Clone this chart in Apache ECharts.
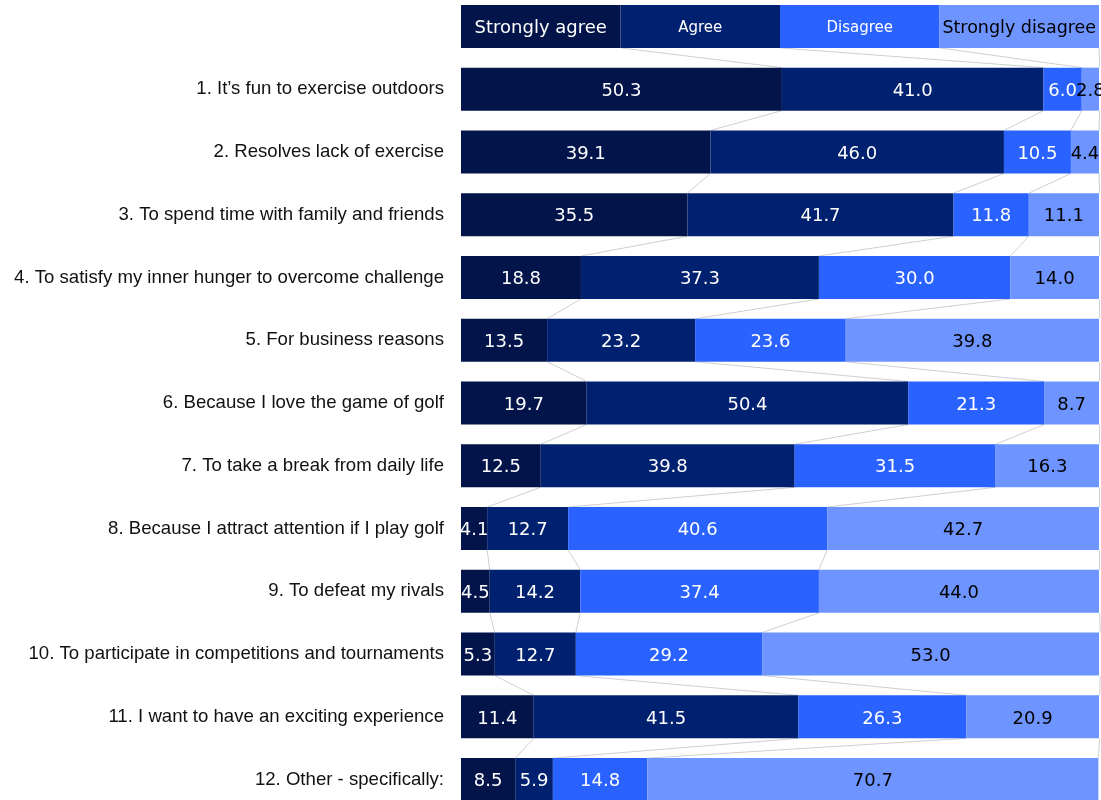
<!DOCTYPE html>
<html>
<head>
<meta charset="utf-8">
<script src="https://cdn.jsdelivr.net/npm/echarts@6/dist/echarts.min.js"></script>
<style>
  html, body { margin: 0; padding: 0; background: #fff; overflow: hidden; width: 1101px; height: 800px; }
  #chart { position: absolute; left: 0; top: -5px; width: 1101px; height: 816px; }
</style>
</head>
<body>
<div id="chart"></div>
<script>
// Survey statements (first row is the key row, drawn as a bar of four equal parts)
const categories = [
  '',
  '1. It\u2019s fun to exercise outdoors',
  '2. Resolves lack of exercise',
  '3. To spend time with family and friends',
  '4. To satisfy my inner hunger to overcome challenge',
  '5. For business reasons',
  '6. Because I love the game of golf',
  '7. To take a break from daily life',
  '8. Because I attract attention if I play golf',
  '9. To defeat my rivals',
  '10. To participate in competitions and tournaments',
  '11. I want to have an exciting experience',
  '12. Other - specifically:'
];

const seriesNames = ['Strongly agree', 'Agree', 'Disagree', 'Strongly disagree'];

// Share of answers (%) per statement; leading 25 is the key row
const stronglyAgree    = [25, 50.3, 39.1, 35.5, 18.8, 13.5, 19.7, 12.5,  4.1,  4.5,  5.3, 11.4,  8.5];
const agree            = [25, 41.0, 46.0, 41.7, 37.3, 23.2, 50.4, 39.8, 12.7, 14.2, 12.7, 41.5,  5.9];
const disagree         = [25,  6.0, 10.5, 11.8, 30.0, 23.6, 21.3, 31.5, 40.6, 37.4, 29.2, 26.3, 14.8];
const stronglyDisagree = [25,  2.8,  4.4, 11.1, 14.0, 39.8,  8.7, 16.3, 42.7, 44.0, 53.0, 20.9, 70.7];

const colors = ['#02144A', '#002070', '#2962FF', '#6D94FF'];
const labelColors = ['#ffffff', '#ffffff', '#ffffff', '#000000'];
const keyFontSizes = [18, 15, 15, 17.5];
const GAP = 0.315;

const valueSets = [stronglyAgree, agree, disagree, stronglyDisagree];

// cumulative right edge of each segment for a row
function cumulative(row) {
  let s = 0;
  return valueSets.map(arr => (s += arr[row]));
}

const chart = echarts.init(document.getElementById('chart'));

const barSeries = valueSets.map((arr, k) => ({
  name: seriesNames[k],
  type: 'bar',
  stack: 'total',
  barCategoryGap: (GAP * 100) + '%',
  itemStyle: { color: colors[k] },
  z: 3,
  label: {
    show: true,
    position: 'inside',
    offset: [0, 2],
    color: labelColors[k],
    fontFamily: 'DejaVu Sans',
    fontSize: 18,
    formatter: p => p.dataIndex === 0 ? p.seriesName : Number(p.value).toFixed(1)
  },
  data: arr.map((v, i) => i === 0 ? { value: v, label: { fontSize: keyFontSizes[k] } } : v)
}));

// thin connectors between segment boundaries of neighbouring bars
const connectorSeries = {
  type: 'custom',
  silent: true,
  z: 1,
  renderItem: function (params, api) {
    const row = api.value(0);
    const band = api.size([0, 1])[1];
    const half = band * (1 - GAP) / 2;
    const a = cumulative(row);
    const b = cumulative(row + 1);
    const children = a.map((xa, k) => {
      const p1 = api.coord([xa, row]);
      const p2 = api.coord([b[k], row + 1]);
      return {
        type: 'line',
        shape: { x1: p1[0], y1: p1[1] + half, x2: p2[0], y2: p2[1] - half },
        style: { stroke: '#cfcfcf', lineWidth: 1 }
      };
    });
    return { type: 'group', children };
  },
  encode: { x: 1, y: 0 },
  data: categories.slice(0, -1).map((_, i) => [i, 0])
};

chart.setOption({
  animation: false,
  grid: { left: 461, right: 2, top: 0, bottom: 0, containLabel: false },
  xAxis: {
    type: 'value',
    min: 0,
    max: 100,
    show: false
  },
  yAxis: {
    type: 'category',
    inverse: true,
    data: categories,
    axisLine: { show: false },
    axisTick: { show: false },
    splitLine: { show: false },
    axisLabel: {
      margin: 17,
      color: '#111',
      fontFamily: 'Liberation Sans',
      fontSize: 18.6,
      padding: [2, 0, 0, 0]
    }
  },
  series: [...barSeries, connectorSeries]
});
</script>
</body>
</html>
